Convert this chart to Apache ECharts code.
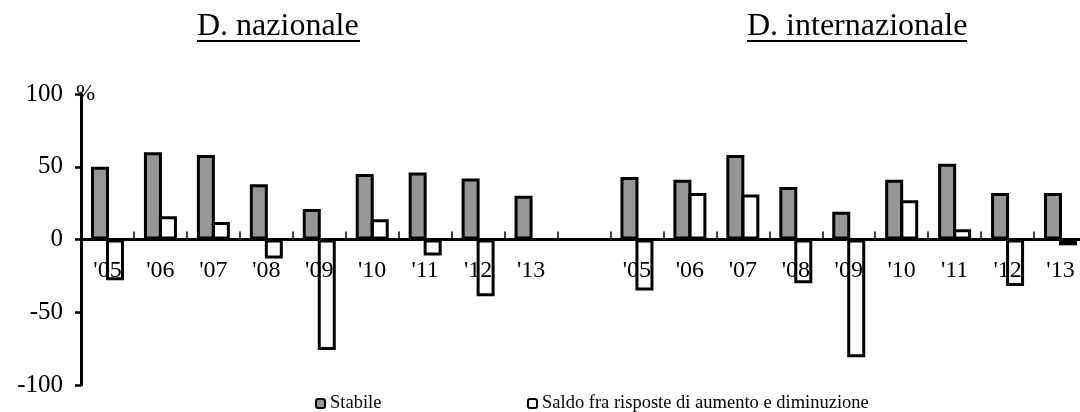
<!DOCTYPE html>
<html>
<head>
<meta charset="utf-8">
<script src="https://cdn.jsdelivr.net/npm/echarts@6/dist/echarts.min.js"></script>
<style>
html,body{margin:0;padding:0;background:#fff;}
#c{width:1080px;height:412px;}
</style>
</head>
<body>
<div id="c"></div>
<script>
// ---- data ----
const years = ["'05","'06","'07","'08","'09","'10","'11","'12","'13"];
const panelTitles = ["D. nazionale", "D. internazionale"];
const seriesNames = ["Stabile", "Saldo fra risposte di aumento e diminuzione"];
const stabileNaz = [50, 60, 58, 38, 21, 45, 46, 42, 30];
const saldoNaz   = [-28, 16, 12, -13, -76, 14, -11, -39, null];
const stabileInt = [43, 41, 58, 36, 19, 41, 52, 32, 32];
const saldoInt   = [-35, 32, 31, -30, -81, 27, 7, -32, -4];
const yTicks = [-100, -50, 0, 50, 100];

// ---- build ----
const categories = years.concat([""], years);
const stabile = stabileNaz.concat([null], stabileInt);
const saldo = saldoNaz.concat([null], saldoInt);
const FONT = "'Liberation Serif', 'Times New Roman', serif";
const GRID_TOP = 94, GRID_H = 291;

const chart = echarts.init(document.getElementById('c'), null, {renderer: 'canvas'});
chart.setOption({
  animation: false,
  backgroundColor: '#fff',
  grid: {left: 81, top: GRID_TOP, width: 1006, height: GRID_H, containLabel: false, outerBoundsMode: 'none'},
  legend: [
    {data: [seriesNames[0]], left: 310, top: 389, itemWidth: 9, itemHeight: 9, itemGap: 0,
     itemStyle: {borderWidth: 2}, textStyle: {fontFamily: FONT, fontSize: 18.5, color: '#000'}},
    {data: [seriesNames[1]], left: 522, top: 389, itemWidth: 9, itemHeight: 9, itemGap: 0,
     itemStyle: {borderWidth: 2, color: '#fff'}, textStyle: {fontFamily: FONT, fontSize: 18.5, color: '#000'}}
  ],
  xAxis: {
    type: 'category',
    data: categories,
    position: 'bottom',
    offset: -GRID_H / 2,
    boundaryGap: true,
    axisLine: {onZero: false, lineStyle: {color: '#000', width: 3}},
    axisTick: {show: true, inside: true, length: 8, alignWithLabel: false, lineStyle: {color: '#000', width: 1.5}},
    axisLabel: {interval: 0, margin: 19, fontFamily: FONT, fontSize: 24, color: '#000'},
    splitLine: {show: false}
  },
  yAxis: {
    type: 'value',
    min: yTicks[0], max: yTicks[yTicks.length - 1], interval: 50,
    axisLine: {show: true, onZero: false, lineStyle: {color: '#000', width: 3}},
    axisTick: {show: true, inside: false, length: 6, lineStyle: {color: '#000', width: 2.5}},
    axisLabel: {margin: 18, fontFamily: FONT, fontSize: 25, color: '#000'},
    splitLine: {show: false}
  },
  series: [
    {name: seriesNames[0], type: 'bar', data: stabile, barWidth: 18, barGap: '-16.7%',
     itemStyle: {color: '#969696', borderColor: '#000', borderWidth: 3}},
    {name: seriesNames[1], type: 'bar', data: saldo, barWidth: 18, barGap: '-16.7%',
     itemStyle: {color: 'rgba(255,255,255,0)', borderColor: '#000', borderWidth: 3}}
  ],
  graphic: [
    {type: 'text', left: 197, top: 11, style: {text: panelTitles[0], fontFamily: FONT, fontSize: 32, fill: '#000'}},
    {type: 'line', shape: {x1: 197, y1: 41, x2: 360, y2: 41}, style: {stroke: '#000', lineWidth: 2}},
    {type: 'text', left: 747, top: 11, style: {text: panelTitles[1], fontFamily: FONT, fontSize: 32, fill: '#000'}},
    {type: 'line', shape: {x1: 747, y1: 41, x2: 967, y2: 41}, style: {stroke: '#000', lineWidth: 2}},
    {type: 'text', left: 76, top: 82, style: {text: '%', fontFamily: FONT, fontSize: 23, fill: '#000'}}
  ]
});
</script>
</body>
</html>
